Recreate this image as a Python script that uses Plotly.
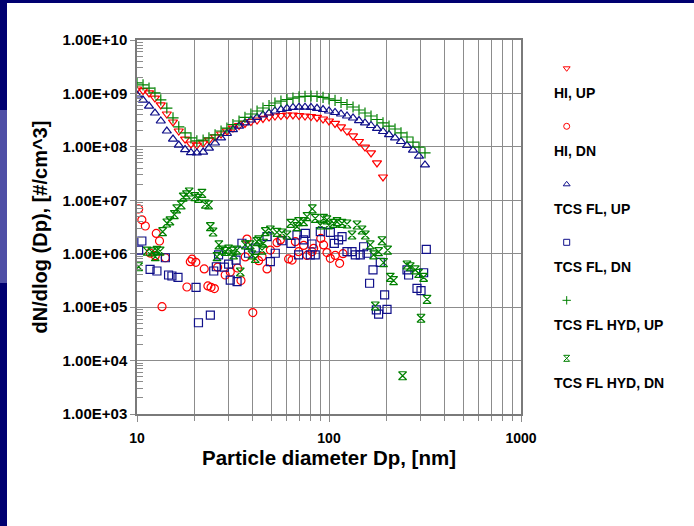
import plotly.graph_objects as go

# ---------------- data ----------------
DIAM_UP = [10.0, 10.75, 11.55, 12.4, 13.3, 14.3, 15.4, 16.5, 17.8, 19.1,
           20.5, 22.1, 23.7, 25.5, 27.4, 29.4, 31.6, 34.0, 36.5, 39.2,
           42.2, 45.3, 48.7, 52.3, 56.2, 60.4, 64.9, 69.8, 75.0, 80.6,
           86.6, 93.1, 100.0, 107.5, 115.5, 124.1, 133.4, 143.3, 154.0, 165.5,
           177.8, 191.1, 205.4, 220.7, 237.1, 254.8, 273.8, 294.3, 316.2]

HI_UP = [1.21e9, 1.13e9, 1.02e9, 8.2e8, 6.1e8, 4.12e8, 2.92e8, 1.98e8, 1.40e8, 1.13e8,
         1.08e8, 1.18e8, 1.34e8, 1.53e8, 1.74e8, 1.98e8, 2.25e8, 2.51e8, 2.74e8, 2.98e8,
         3.18e8, 3.4e8, 3.62e8, 3.78e8, 3.86e8, 3.95e8, 3.95e8, 3.86e8, 3.78e8, 3.7e8,
         3.55e8, 3.32e8, 3.05e8, 2.74e8, 2.36e8, 1.98e8, 1.6e8, 1.26e8, 9.9e7, 7.7e7,
         5.0e7, 2.73e7]

TCS_FL_UP = [9.35e8, 7.5e8, 5.8e8, 4.3e8, 3.05e8, 1.98e8, 1.40e8, 1.08e8, 8.9e7, 7.8e7,
             7.7e7, 8.0e7, 9.5e7, 1.18e8, 1.47e8, 1.78e8, 2.11e8, 2.45e8, 2.8e8, 3.18e8,
             3.55e8, 3.95e8, 4.3e8, 4.69e8, 5.0e8, 5.27e8, 5.46e8, 5.52e8, 5.52e8, 5.46e8,
             5.27e8, 5.0e8, 4.69e8, 4.4e8, 4.12e8, 3.78e8, 3.47e8, 3.11e8, 2.8e8, 2.51e8,
             2.21e8, 1.94e8, 1.70e8, 1.47e8, 1.26e8, 1.06e8, 8.7e7, 6.7e7, 4.6e7]

HYD_UP = [1.57e9, 1.44e9, 1.26e9, 1.02e9, 7.6e8, 5.3e8, 3.5e8, 2.36e8, 1.82e8, 1.47e8,
          1.29e8, 1.34e8, 1.47e8, 1.67e8, 1.98e8, 2.25e8, 2.62e8, 3.05e8, 3.55e8, 4.12e8,
          4.69e8, 5.34e8, 5.94e8, 6.62e8, 7.2e8, 7.7e8, 8.2e8, 8.6e8, 8.8e8, 8.95e8,
          8.8e8, 8.4e8, 7.9e8, 7.4e8, 6.77e8, 6.2e8, 5.57e8, 4.9e8, 4.3e8, 3.78e8,
          3.25e8, 2.8e8, 2.45e8, 2.16e8, 1.82e8, 1.53e8, 1.23e8, 9.9e7, 7.7e7]

HI_DN_D = [10.2, 10.6, 11.05, 11.7, 12.45, 12.6, 13.1, 13.5, 14.05, 18.2,
           18.95, 19.35, 20.25, 22.4, 23.4, 24.3, 25.3, 26.3, 28.8, 30.6,
           33.4, 34.8, 36.65, 37.4, 40.1, 43.0, 44.8, 47.55, 49.5, 53.6,
           55.8, 61.6, 64.2, 66.8, 69.45, 73.8, 76.8, 81.6, 83.2, 90.6,
           93.7, 97.6, 101.6, 107.8, 113.6, 118.3]
HI_DN_V = [6.9e6, 4.3e6, 3.3e6, 1.03e6, 9.2e5, 2.4e6, 1.73e6, 1.02e5, 8.4e5, 2.38e5,
           7.1e5, 7.9e5, 6.9e5, 5.2e5, 2.49e5, 2.35e5, 2.23e5, 5.6e5, 4.0e5, 4.55e5,
           5.4e5, 3.15e5, 8.7e5, 1.88e6, 7.9e4, 7.4e5, 8.8e5, 5.2e5, 1.17e6, 1.61e6,
           1.81e6, 8.0e5, 7.6e5, 1.68e6, 1.09e6, 1.43e6, 9.3e5, 1.09e6, 1.26e6, 1.93e6,
           1.46e6, 1.05e6, 8.2e5, 9.3e5, 6.6e5, 1.0e6]

TCS_DN_D = [10.2, 10.6, 11.7, 12.7, 14.05, 14.6, 15.2, 16.35, 20.3, 20.9,
            24.1, 25.1, 25.9, 26.6, 28.5, 30.0, 30.6, 32.8, 33.2, 35.2,
            38.1, 41.3, 47.55, 49.5, 52.5, 56.9, 63.4, 68.1, 69.45, 73.8,
            75.3, 79.9, 81.6, 84.8, 90.1, 101.6, 106.6, 112.2, 116.9, 124.1,
            131.8, 137.1, 145.6, 151.4, 157.7, 162.7, 169.5, 176.4, 181.3, 185.0,
            194.9, 200.5, 254.8, 259.8, 287.3, 301.5, 311.1, 321.2]
TCS_DN_V = [1.17e6, 1.73e6, 5.1e5, 4.75e5, 8.4e5, 4.0e5, 3.83e5, 3.62e5, 2.35e5, 5.1e4,
            7.1e4, 4.75e5, 5.7e5, 9.5e5, 5.6e5, 6.4e5, 3.2e5, 7.6e5, 3.0e5, 1.57e6,
            1.02e6, 1.28e6, 2.08e6, 7.1e5, 1.02e6, 1.75e6, 1.56e6, 2.24e6, 9.5e5, 1.81e6,
            2.4e6, 9.5e5, 1.52e6, 9.5e5, 2.58e6, 2.5e6, 1.56e6, 1.81e6, 2.08e6, 1.09e6,
            1.09e6, 9.5e5, 9.5e5, 1.35e6, 1.02e6, 2.8e5, 5.0e5, 8.9e4, 7.4e4, 6.9e5,
            1.69e5, 9.1e4, 5.0e5, 4.0e5, 2.25e5, 2.03e5, 4.4e5, 1.21e6]

HYD_DN_D = [10.2, 11.3, 11.95, 12.45, 12.7, 13.2, 13.6, 14.3, 14.85, 15.65,
            16.1, 17.0, 17.4, 18.1, 18.7, 20.0, 20.9, 21.8, 22.7, 23.6,
            24.1, 24.9, 26.1, 26.7, 27.7, 28.8, 30.0, 31.55, 31.85, 33.1,
            34.5, 36.65, 38.9, 39.7, 41.3, 42.2, 43.0, 44.8, 45.6, 46.6,
            49.5, 53.6, 56.9, 60.4, 63.2, 68.1, 69.45, 73.8, 76.8, 81.9,
            84.8, 90.1, 93.7, 97.6, 99.5, 105.7, 110.1, 116.9, 124.1, 131.8,
            139.9, 148.6, 154.6, 164.1, 170.7, 174.2, 181.3, 188.8, 192.4, 202.0,
            208.6, 217.0, 241.7, 254.8, 265.0, 281.6, 292.9, 301.5, 311.1, 324.0]
HYD_DN_V = [5.7e5, 1.12e6, 1.08e6, 8.8e5, 1.15e6, 1.12e6, 2.58e6, 3.76e6, 4.1e6, 5.4e6,
            6.9e6, 8.2e6, 1.15e7, 1.26e7, 1.43e7, 1.17e7, 1.09e7, 1.35e7, 8.5e6, 8.2e6,
            3.2e6, 2.55e6, 8.8e5, 1.46e6, 1.17e6, 1.1e6, 1.22e6, 1.12e6, 9.5e5, 1.17e6,
            4.55e5, 1.46e6, 1.46e6, 9.5e5, 8.2e5, 1.68e6, 1.81e6, 1.17e6, 1.57e6, 2.58e6,
            2.78e6, 2.5e6, 2.44e6, 2.24e6, 3.71e6, 3.2e6, 3.97e6, 3.97e6, 4.93e6, 6.9e6,
            4.6e6, 3.45e6, 4.6e6, 4.3e6, 3.45e6, 3.71e6, 3.97e6, 3.71e6, 3.6e6, 2.24e6,
            3.45e6, 2.78e6, 2.24e6, 1.46e6, 9.5e5, 1.05e5, 1.09e6, 1.75e6, 6.8e5, 1.17e6,
            3.62e5, 3.13e5, 5.2e3, 6.15e5, 5.7e5, 5.0e5, 4.3e5, 6.2e4, 3.62e5, 1.4e5]

SERIES_NAMES = ["HI, UP", "HI, DN", "TCS FL, UP", "TCS FL, DN", "TCS FL HYD, UP", "TCS FL HYD, DN"]
Y_TICK_VALUES = [1e3, 1e4, 1e5, 1e6, 1e7, 1e8, 1e9, 1e10]
Y_TICK_LABELS = ["1.00E+03", "1.00E+04", "1.00E+05", "1.00E+06",
                 "1.00E+07", "1.00E+08", "1.00E+09", "1.00E+10"]
X_TICK_VALUES = [10, 100, 1000]
X_TICK_LABELS = ["10", "100", "1000"]

# ---------------- styles ----------------
RED = "#ff0000"
NAVY = "#10108a"
GREEN = "#008000"
FONT = "Liberation Sans, Arial, sans-serif"
GRID = "#8c8c8c"

series = [
    (DIAM_UP[:len(HI_UP)], HI_UP, "triangle-down-open", RED),
    (HI_DN_D, HI_DN_V, "circle-open", RED),
    (DIAM_UP, TCS_FL_UP, "triangle-up-open", NAVY),
    (TCS_DN_D, TCS_DN_V, "square-open", NAVY),
    (DIAM_UP, HYD_UP, "cross-thin-open", GREEN),
    (HYD_DN_D, HYD_DN_V, "hourglass-open", GREEN),
]

fig = go.Figure()
for (xs, ys, sym, col), name in zip(series, SERIES_NAMES):
    fig.add_trace(go.Scatter(
        x=xs, y=ys, mode="markers", name=name, showlegend=False,
        marker=dict(symbol=sym, size=8, color=col, line=dict(width=1.2, color=col)),
    ))

# legend keys drawn on an auxiliary, hidden axis (marker above its label)
fig.add_trace(go.Scatter(
    x=[0] * len(SERIES_NAMES), y=list(range(len(SERIES_NAMES))),
    xaxis="x2", yaxis="y2", mode="markers", showlegend=False, hoverinfo="skip",
    marker=dict(symbol=[s[2] for s in series], size=6,
                color=[s[3] for s in series],
                line=dict(width=1, color=[s[3] for s in series])),
))

minor_x = [m * 10 ** k for k in (1, 2) for m in range(2, 10)]
minor_y = [m * 10 ** k for k in range(3, 10) for m in range(2, 10)]

W, H = 694, 526
ML, MR, MT, MB = 137, 12, 40, 112
PW = W - ML - MR
PH = H - MT - MB
plot_w = 384

fig.update_layout(
    width=W, height=H, autosize=False,
    margin=dict(l=ML, r=MR, t=MT, b=MB, pad=0, autoexpand=False),
    paper_bgcolor="white", plot_bgcolor="white",
    showlegend=False,
    font=dict(family=FONT, color="black"),
    xaxis=dict(
        type="log", range=[1, 3], domain=[0, plot_w / PW], automargin=False,
        tickvals=X_TICK_VALUES, ticktext=X_TICK_LABELS,
        ticks="outside", ticklen=6, tickcolor=GRID, ticklabelstandoff=4,
        tickfont=dict(family=FONT, size=14, weight="bold", color="black"),
        showgrid=True, gridcolor=GRID, gridwidth=1,
        showline=True, mirror=True, linecolor="#7a7a7a", linewidth=1.5,
        zeroline=False,
        minor=dict(tickmode="array", tickvals=minor_x, ticks="outside", ticklen=5,
                   tickcolor=GRID, showgrid=True, gridcolor=GRID, gridwidth=1),
        title=dict(text="Particle diameter Dp, [nm]", standoff=6,
                   font=dict(family=FONT, size=20.5, weight="bold", color="black")),
    ),
    yaxis=dict(
        type="log", range=[3, 10], automargin=False,
        tickvals=Y_TICK_VALUES, ticktext=Y_TICK_LABELS,
        ticks="outside", ticklen=5, tickcolor=GRID,
        tickfont=dict(family=FONT, size=15, weight="bold", color="black"),
        showgrid=True, gridcolor=GRID, gridwidth=1,
        showline=True, mirror=True, linecolor="#7a7a7a", linewidth=1.5,
        zeroline=False,
        minor=dict(tickmode="array", tickvals=minor_y, ticks="inside", ticklen=6,
                   tickcolor=GRID, showgrid=False),
        title=dict(text="dN/dlog (Dp), [#/cm^3]", standoff=10,
                   font=dict(family=FONT, size=20, weight="bold", color="black")),
    ),
    xaxis2=dict(domain=[0.75, 1.0], range=[-1, 5.504], visible=False, anchor="y2"),
    yaxis2=dict(domain=[0, 1], range=[5.96, -0.488], visible=False, anchor="x2"),
)

# legend labels
text_x = (551.7 - ML) / PW
for i, name in enumerate(SERIES_NAMES):
    fig.add_annotation(
        x=text_x, xref="paper", y=i + 0.43, yref="y2",
        text=name, showarrow=False, xanchor="left", yanchor="middle",
        font=dict(family=FONT, size=14, weight="bold", color="black"),
    )

# slide frame decoration (navy band top and left)
def px_x(px):
    return (px - ML) / PW

def px_y(py):
    return (H - MB - py) / PH

fig.add_shape(type="rect", xref="paper", yref="paper",
              x0=px_x(0), x1=px_x(W), y0=px_y(3), y1=px_y(0),
              fillcolor="#000070", line=dict(width=0))
fig.add_shape(type="rect", xref="paper", yref="paper",
              x0=px_x(0), x1=px_x(7), y0=px_y(H), y1=px_y(0),
              fillcolor="#000070", line=dict(width=0))
fig.add_shape(type="rect", xref="paper", yref="paper",
              x0=px_x(0), x1=px_x(7), y0=px_y(283), y1=px_y(110),
              fillcolor="#4f4fa6", line=dict(width=0))

fig.write_html(
    "out.html",
    config={"displayModeBar": False},
    post_script="document.body.style.margin='0';document.body.style.overflow='hidden';",
)
